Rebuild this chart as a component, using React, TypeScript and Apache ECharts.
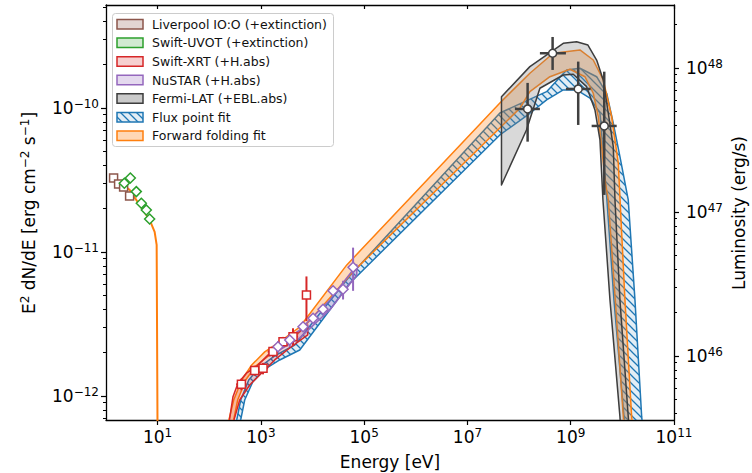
import React, { useEffect, useRef } from "react";
import * as echarts from "echarts";

const FONT = "DejaVu Sans";

// ---- axis ranges (log10 space) ----
const X_MIN = 0;
const X_MAX = 11;
const Y_MIN = -12.167;
const Y_MAX = -9.285;
const LUM_OFFSET = 57.722; // log10(L / flux)

const xTickValues = [1, 3, 5, 7, 9, 11];
const yTickValues = [-12, -11, -10];
const lumTickValues = [46, 47, 48];

// ---- data (log10 E [eV], log10 E^2 dN/dE [erg cm^-2 s^-1]) ----
const liverpoolE = [0.147, 0.244, 0.341, 0.457];
const liverpoolF = [-10.486, -10.528, -10.549, -10.611];

const uvotE = [0.355, 0.471, 0.587, 0.684, 0.781, 0.845];
const uvotF = [-10.523, -10.486, -10.581, -10.662, -10.708, -10.771];

const xrtE = [2.622, 2.88, 3.041, 3.234, 3.428, 3.622, 3.882];
const xrtF = [-11.919, -11.824, -11.808, -11.692, -11.623, -11.588, -11.299];
const xrtElo = [2.52, 2.78, 2.94, 3.13, 3.33, 3.52, 3.84];
const xrtEhi = [2.72, 2.98, 3.14, 3.33, 3.53, 3.72, 3.92];
const xrtFlo = [-11.96, -11.86, -11.85, -11.73, -11.66, -11.65, -11.48];
const xrtFhi = [-11.88, -11.79, -11.77, -11.66, -11.59, -11.53, -11.17];

const nuE = [3.331, 3.558, 3.816, 4.01, 4.203, 4.397, 4.591, 4.785];
const nuF = [-11.658, -11.611, -11.519, -11.46, -11.398, -11.269, -11.259, -11.106];
const nuFlo = [-11.7, -11.66, -11.55, -11.49, -11.43, -11.3, -11.33, -11.27];
const nuFhi = [-11.62, -11.57, -11.49, -11.43, -11.37, -11.24, -11.2, -10.97];

const latE = [8.165, 8.649, 9.145, 9.649];
const latF = [-10.007, -9.62, -9.868, -10.125];
const latElo = [7.919, 8.403, 8.907, 9.405];
const latEhi = [8.403, 8.907, 9.386, 9.89];
const latFlo = [-10.234, -9.736, -10.118, -10.604];
const latFhi = [-9.826, -9.507, -9.678, -9.748];

// ---- optical model curve ----
const optModelE = [0.128, 0.457, 0.845, 0.942, 0.981, 1.0];
const optModelF = [-10.479, -10.569, -10.778, -10.861, -10.951, -12.4];

// ---- model bands ----
const ffUpE = [2.357, 2.473, 2.628, 2.822, 3.074, 3.364, 3.752, 4.663, 7.628, 8.209, 8.661, 9.178, 9.436, 9.63, 9.793, 9.921, 10.05, 10.18, 10.196];
const ffUpF = [-12.201, -12.028, -11.889, -11.785, -11.694, -11.625, -11.521, -11.09, -9.965, -9.759, -9.62, -9.597, -9.667, -9.806, -10.06, -10.384, -11.333, -12.144, -12.201];
const ffLoE = [2.453, 2.55, 2.705, 2.899, 3.171, 3.558, 4.785, 8.016, 8.209, 8.597, 8.984, 9.275, 9.436, 9.533, 9.599, 9.663, 9.727, 9.876, 10.018, 10.031];
const ffLoF = [-12.201, -12.028, -11.889, -11.792, -11.715, -11.632, -11.137, -10.002, -9.887, -9.783, -9.731, -9.783, -9.898, -10.06, -10.269, -10.5, -10.639, -11.403, -12.144, -12.201];

const fpUpE = [2.512, 2.609, 2.764, 2.977, 3.267, 3.655, 4.721, 7.628, 8.533, 8.921, 9.178, 9.502, 9.696, 9.824, 9.953, 10.114, 10.244, 10.374, 10.39];
const fpUpF = [-12.201, -12.028, -11.889, -11.799, -11.722, -11.646, -11.167, -10.035, -9.887, -9.736, -9.724, -9.783, -9.898, -10.106, -10.338, -10.639, -11.333, -12.144, -12.201];
const fpLoE = [2.589, 2.686, 2.841, 3.054, 3.364, 3.752, 4.721, 7.628, 8.209, 8.533, 8.855, 9.114, 9.372, 9.566, 9.624, 9.701, 9.837, 10.031, 10.05];
const fpLoF = [-12.201, -12.028, -11.903, -11.819, -11.75, -11.681, -11.217, -10.1875, -10.037, -9.944, -9.875, -9.875, -9.931, -10.035, -10.292, -10.639, -11.333, -12.144, -12.201];

const latUpE = [7.659, 8.209, 8.855, 9.114, 9.333, 9.502, 9.63, 9.727, 9.824, 9.857, 9.953, 10.114, 10.127];
const latUpF = [-9.922, -9.713, -9.551, -9.54, -9.563, -9.667, -9.806, -10.035, -10.269, -10.639, -11.333, -12.144, -12.201];
const latLoE = [7.659, 8.143, 8.403, 8.855, 9.048, 9.308, 9.469, 9.566, 9.624, 9.76, 9.953, 9.963];
const latLoF = [-10.535, -10.153, -9.863, -9.771, -9.766, -9.852, -10.014, -10.222, -10.639, -11.333, -12.144, -12.201];

const xrtUpE = [2.376, 2.459, 2.556, 2.719, 2.913, 3.107, 3.3, 3.494, 3.752, 3.907];
const xrtUpF = [-12.201, -12.005, -11.912, -11.842, -11.796, -11.727, -11.658, -11.611, -11.553, -11.507];
const xrtLoE = [2.453, 2.589, 2.783, 3.016, 3.267, 3.558, 3.907];
const xrtLoF = [-12.201, -12.028, -11.924, -11.84, -11.75, -11.667, -11.576];

const nuUpE = [3.171, 3.752, 4.333, 4.857];
const nuUpF = [-11.681, -11.542, -11.333, -11.09];
const nuLoE = [3.171, 3.752, 4.333, 4.857];
const nuLoF = [-11.722, -11.597, -11.403, -11.16];

// ---- legend ----
const legendLabels = [
  "Liverpool IO:O (+extinction)",
  "Swift-UVOT (+extinction)",
  "Swift-XRT (+H.abs)",
  "NuSTAR (+H.abs)",
  "Fermi-LAT (+EBL.abs)",
  "Flux point fit",
  "Forward folding fit",
];

const C = {
  blue: "#1f77b4",
  orange: "#ff7f0e",
  green: "#2ca02c",
  red: "#d62728",
  purple: "#9467bd",
  brown: "#8c564b",
  gray: "#3d3d3d",
};

const hatchSvg =
  '<svg xmlns="http://www.w3.org/2000/svg" width="8" height="8">' +
  '<rect width="8" height="8" fill="rgba(31,119,180,0.13)"/>' +
  '<path d="M-2,-2 L10,10 M-2,6 L2,10 M6,-2 L10,2" stroke="#1f77b4" stroke-width="1.3"/></svg>';
const hatchFill: any = {
  image: "data:image/svg+xml;charset=utf-8," + encodeURIComponent(hatchSvg),
  repeat: "repeat",
  imageWidth: 8,
  imageHeight: 8,
};

function zip(a: number[], b: number[]) {
  return a.map((v, i) => [v, b[i]]);
}

function bandSeries(upE: number[], upF: number[], loE: number[], loF: number[], fill: any, stroke: string, z: number, lw = 1.5) {
  const pts = [...zip(upE, upF), ...zip(loE, loF).reverse()];
  return {
    type: "custom",
    clip: true,
    silent: true,
    z,
    xAxisIndex: 0,
    yAxisIndex: 0,
    data: [[pts[0][0], pts[0][1]]],
    renderItem: (_p: any, api: any) => ({
      type: "polygon",
      shape: { points: pts.map((p) => api.coord(p)) },
      style: { fill, stroke, lineWidth: lw, lineJoin: "round" },
    }),
  };
}

function errorSeries(E: number[], F: number[], Elo: number[] | null, Ehi: number[] | null, Flo: number[], Fhi: number[], color: string, lw: number, z: number) {
  const data = E.map((e, i) => [e, F[i], Elo ? Elo[i] : e, Ehi ? Ehi[i] : e, Flo[i], Fhi[i]]);
  return {
    type: "custom",
    clip: true,
    silent: true,
    z,
    xAxisIndex: 0,
    yAxisIndex: 0,
    data,
    renderItem: (_p: any, api: any) => {
      const x = api.value(0), y = api.value(1);
      const a = api.coord([api.value(2), y]);
      const b = api.coord([api.value(3), y]);
      const c = api.coord([x, api.value(4)]);
      const d = api.coord([x, api.value(5)]);
      const st = { stroke: color, lineWidth: lw };
      return {
        type: "group",
        children: [
          { type: "line", shape: { x1: a[0], y1: a[1], x2: b[0], y2: b[1] }, style: st },
          { type: "line", shape: { x1: c[0], y1: c[1], x2: d[0], y2: d[1] }, style: st },
        ],
      };
    },
  };
}

function markerSeries(E: number[], F: number[], symbol: string, size: number, color: string, z: number, bw = 1.5) {
  return {
    type: "scatter",
    silent: true,
    z,
    xAxisIndex: 0,
    yAxisIndex: 0,
    symbol,
    symbolSize: size,
    data: zip(E, F),
    itemStyle: { color: "#ffffff", borderColor: color, borderWidth: bw, opacity: 1 },
  };
}

function minorTicks(lo: number, hi: number) {
  const out: number[] = [];
  for (let d = Math.floor(lo) - 1; d <= Math.ceil(hi); d++) {
    for (let k = 2; k <= 9; k++) {
      const v = d + Math.log10(k);
      if (v > lo && v < hi) out.push(v);
    }
  }
  return out;
}

const tickRich: any = {
  b: { fontSize: 17, fontFamily: FONT, color: "#000", lineHeight: 20 },
  s: { fontSize: 12, fontFamily: FONT, color: "#000", lineHeight: 12, verticalAlign: "top" },
};

function buildOption() {
  const axisLine = { show: true, lineStyle: { color: "#000", width: 1.3 } };
  const yMinor = minorTicks(Y_MIN, Y_MAX);
  const lMinor = minorTicks(Y_MIN + LUM_OFFSET, Y_MAX + LUM_OFFSET);

  const legendTop = 24.3;
  const legendStep = 18.57;
  const patchFills: any[] = [
    "rgba(140,86,75,0.25)",
    "rgba(44,160,44,0.22)",
    "rgba(214,39,40,0.22)",
    "rgba(148,103,189,0.25)",
    "rgba(128,128,128,0.42)",
    hatchFill,
    "rgba(255,127,14,0.3)",
  ];
  const patchStrokes = [C.brown, C.green, C.red, C.purple, C.gray, C.blue, C.orange];

  const legendChildren: any[] = [
    {
      type: "rect",
      shape: { x: 112.5, y: 13.5, width: 221, height: 133, r: 3 },
      style: { fill: "rgba(255,255,255,0.85)", stroke: "#cccccc", lineWidth: 1 },
    },
  ];
  legendLabels.forEach((lab, i) => {
    const cy = legendTop + i * legendStep;
    legendChildren.push({
      type: "rect",
      shape: { x: 117, y: cy - 4.75, width: 26, height: 9.5 },
      style: { fill: patchFills[i], stroke: patchStrokes[i], lineWidth: 1.5 },
    });
    legendChildren.push({
      type: "text",
      x: 152,
      y: cy,
      style: { text: lab, fontSize: 12.5, fontFamily: FONT, fill: "#111", align: "left", verticalAlign: "middle" },
    });
  });

  return {
    animation: false,
    backgroundColor: "#ffffff",
    grid: { left: 106, right: 78, top: 5, bottom: 53, containLabel: false },
    xAxis: [
      {
        type: "value",
        position: "bottom",
        min: X_MIN,
        max: X_MAX,
        axisLine,
        splitLine: { show: false },
        axisTick: { show: true, customValues: xTickValues, length: 5, inside: false, lineStyle: { color: "#000", width: 1.2 } },
        axisLabel: {
          show: true,
          customValues: xTickValues,
          margin: 7,
          formatter: (v: number) => `{b|10}{s|${Math.round(v)}}`,
          rich: tickRich,
        },
      },
      {
        type: "value",
        position: "top",
        min: X_MIN,
        max: X_MAX,
        axisLine,
        splitLine: { show: false },
        axisTick: { show: true, customValues: xTickValues, length: 4, inside: true, lineStyle: { color: "#000", width: 1.2 } },
        axisLabel: { show: false, customValues: xTickValues },
      },
    ],
    yAxis: [
      {
        type: "value",
        position: "left",
        min: Y_MIN,
        max: Y_MAX,
        axisLine,
        splitLine: { show: false },
        axisTick: { show: true, customValues: yTickValues, length: 5, lineStyle: { color: "#000", width: 1.2 } },
        axisLabel: {
          show: true,
          customValues: yTickValues,
          margin: 7,
          formatter: (v: number) => `{b|10}{s|\u2212${Math.round(-v)}}`,
          rich: tickRich,
        },
      },
      {
        type: "value",
        position: "left",
        min: Y_MIN,
        max: Y_MAX,
        axisLine: { show: false },
        splitLine: { show: false },
        axisTick: { show: true, customValues: yMinor, length: 3, lineStyle: { color: "#000", width: 1 } },
        axisLabel: { show: false, customValues: yMinor },
      },
      {
        type: "value",
        position: "right",
        min: Y_MIN + LUM_OFFSET,
        max: Y_MAX + LUM_OFFSET,
        axisLine,
        splitLine: { show: false },
        axisTick: { show: true, customValues: lumTickValues, length: 5, lineStyle: { color: "#000", width: 1.2 } },
        axisLabel: {
          show: true,
          customValues: lumTickValues,
          margin: 12,
          formatter: (v: number) => `{b|10}{s|${Math.round(v)}}`,
          rich: tickRich,
        },
      },
      {
        type: "value",
        position: "right",
        min: Y_MIN + LUM_OFFSET,
        max: Y_MAX + LUM_OFFSET,
        axisLine: { show: false },
        splitLine: { show: false },
        axisTick: { show: true, customValues: lMinor, length: 3, lineStyle: { color: "#000", width: 1 } },
        axisLabel: { show: false, customValues: lMinor },
      },
    ],
    graphic: [
      {
        type: "text",
        x: 390,
        y: 462,
        style: { text: "Energy [eV]", fontSize: 17, fontFamily: FONT, fill: "#000", align: "center", verticalAlign: "middle" },
      },
      {
        type: "text",
        x: 29,
        y: 213,
        rotation: Math.PI / 2,
        style: {
          text: "{n|E}{s|2}{n| dN/dE [erg cm}{s|\u22122}{n| s}{s|\u22121}{n|]}",
          align: "center",
          verticalAlign: "middle",
          rich: {
            n: { fontSize: 17, fontFamily: FONT, fill: "#000", lineHeight: 20 },
            s: { fontSize: 12, fontFamily: FONT, fill: "#000", lineHeight: 12, verticalAlign: "top" },
          },
        },
      },
      {
        type: "text",
        x: 739,
        y: 213,
        rotation: Math.PI / 2,
        style: { text: "Luminosity (erg/s)", fontSize: 17, fontFamily: FONT, fill: "#000", align: "center", verticalAlign: "middle" },
      },
      { type: "group", z: 100, children: legendChildren },
    ],
    series: [
      // bands
      bandSeries(fpUpE, fpUpF, fpLoE, fpLoF, hatchFill, C.blue, 2),
      bandSeries(ffUpE, ffUpF, ffLoE, ffLoF, "rgba(255,127,14,0.28)", C.orange, 3),
      bandSeries(latUpE, latUpF, latLoE, latLoF, "rgba(128,128,128,0.3)", C.gray, 4),
      bandSeries(xrtUpE, xrtUpF, xrtLoE, xrtLoF, "rgba(214,39,40,0.2)", C.red, 5),
      bandSeries(nuUpE, nuUpF, nuLoE, nuLoF, "rgba(148,103,189,0.25)", C.purple, 5),
      {
        type: "line",
        silent: true,
        z: 5,
        xAxisIndex: 0,
        yAxisIndex: 0,
        clip: true,
        data: zip(optModelE, optModelF),
        showSymbol: false,
        symbol: "none",
        lineStyle: { color: C.orange, width: 2 },
      },
      // error bars
      errorSeries(xrtE, xrtF, xrtElo, xrtEhi, xrtFlo, xrtFhi, C.red, 2, 6),
      errorSeries(nuE, nuF, null, null, nuFlo, nuFhi, C.purple, 2, 6),
      errorSeries(latE, latF, latElo, latEhi, latFlo, latFhi, "#404040", 2.5, 6),
      // markers
      markerSeries(liverpoolE, liverpoolF, "rect", 8, C.brown, 7),
      markerSeries(uvotE, uvotF, "diamond", 10, C.green, 7),
      markerSeries(xrtE, xrtF, "rect", 8, C.red, 7),
      markerSeries(nuE, nuF, "diamond", 10, C.purple, 7),
      markerSeries(latE, latF, "circle", 8, "#404040", 8),
    ],
  };
}

export default function App() {
  const ref = useRef<HTMLDivElement>(null);
  useEffect(() => {
    document.body.style.margin = "0";
    const chart = echarts.init(ref.current as HTMLDivElement, null, { renderer: "svg" });
    chart.setOption(buildOption() as any);
    return () => chart.dispose();
  }, []);
  return <div ref={ref} style={{ width: 752, height: 473 }} />;
}
